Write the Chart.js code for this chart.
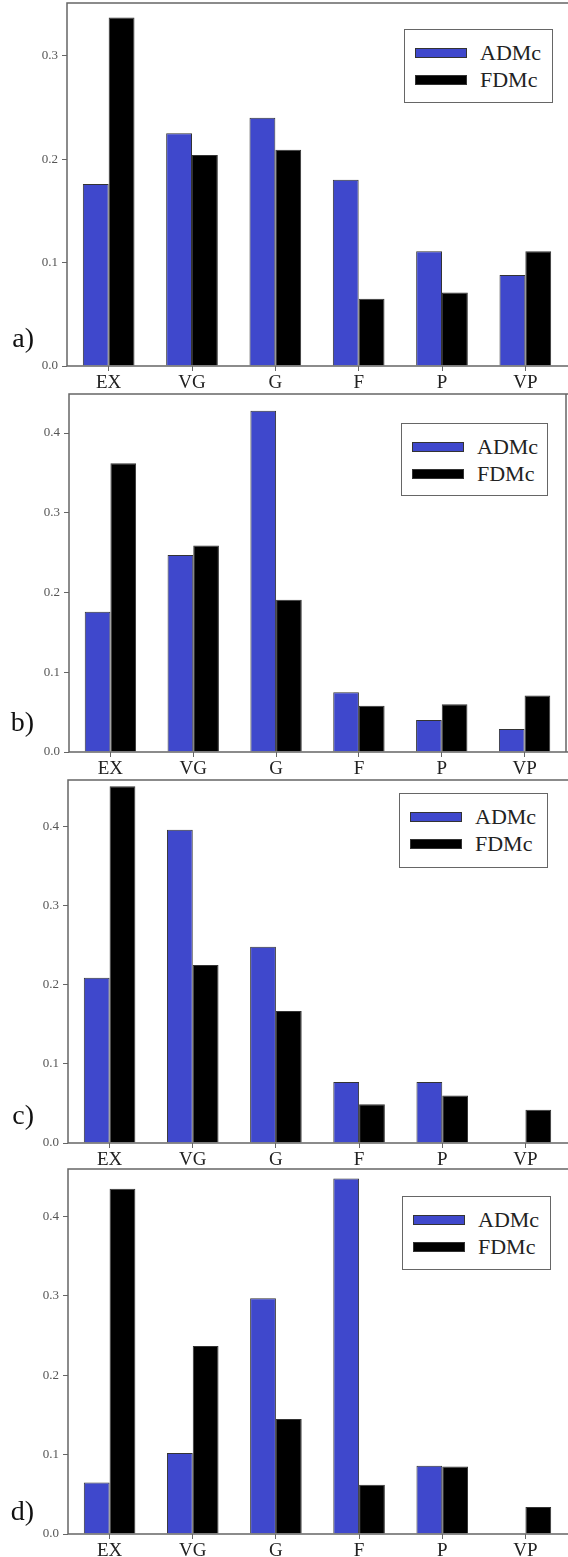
<!DOCTYPE html>
<html lang="en">
<head>
<meta charset="UTF-8" />
<title>ADMc vs FDMc</title>
<style>
  body {
    margin: 0;
    background: #fff;
    width: 568px;
    height: 1557px;
    position: relative;
    overflow: hidden;
    font-family: "Liberation Serif", "Times New Roman", serif;
  }
  canvas { position: absolute; left: 0; }
  .tag {
    position: absolute;
    left: 0;
    width: 34px;
    text-align: right;
    font-size: 28px;
    line-height: 28px;
    color: #111;
  }
  .legend {
    position: absolute;
    border: 1.5px solid #666;
    box-sizing: border-box;
    background: #fff;
  }
  .legend .row {
    position: absolute;
    left: 10px;
    height: 26px;
    display: flex;
    align-items: center;
    font-size: 22px;
    color: #222;
  }
  .legend .sw {
    width: 52px;
    height: 10px;
    border: 1px solid #333;
    box-sizing: border-box;
    margin-right: 13px;
  }
</style>
</head>
<body>

<canvas id="chartA" width="568" height="390" style="top:0px"></canvas>
<canvas id="chartB" width="568" height="390" style="top:390px"></canvas>
<canvas id="chartC" width="568" height="390" style="top:775px"></canvas>
<canvas id="chartD" width="568" height="392" style="top:1165px"></canvas>

<div class="tag" style="top:324px">a)</div>
<div class="tag" style="top:708px">b)</div>
<div class="tag" style="top:1101px">c)</div>
<div class="tag" style="top:1497px">d)</div>

<script src="https://cdn.jsdelivr.net/npm/chart.js"></script>
<script>
  // categories et séries
  const categories = ['EX', 'VG', 'G', 'F', 'P', 'VP'];
  const seriesNames = ['ADMc', 'FDMc'];

  const aAdm = [0.176, 0.225, 0.240, 0.180, 0.111, 0.088];
  const aFdm = [0.337, 0.204, 0.209, 0.065, 0.071, 0.111];

  const bAdm = [0.176, 0.247, 0.428, 0.075, 0.040, 0.029];
  const bFdm = [0.362, 0.259, 0.191, 0.058, 0.060, 0.071];

  const cAdm = [0.209, 0.396, 0.248, 0.077, 0.077, null];
  const cFdm = [0.451, 0.225, 0.167, 0.049, 0.060, 0.042];

  const dAdm = [0.065, 0.102, 0.297, 0.448, 0.086, null];
  const dFdm = [0.435, 0.237, 0.145, 0.062, 0.085, 0.034];

  const ticksA = [0, 0.1, 0.2, 0.3];
  const ticksBCD = [0, 0.1, 0.2, 0.3, 0.4];

  const blue = '#3f48cc';
  const black = '#000000';

  // cadre du graphique (haut, gauche, bas, et droite si demandé)
  const framePlugin = {
    id: 'frame',
    afterDraw(chart, args, opts) {
      const { ctx, chartArea: a } = chart;
      ctx.save();
      ctx.strokeStyle = '#666';
      ctx.lineWidth = 1.5;
      ctx.beginPath();
      ctx.moveTo(chart.width, a.top);
      ctx.lineTo(a.left, a.top);
      ctx.lineTo(a.left, a.bottom);
      ctx.lineTo(chart.width, a.bottom);
      if (opts.right) {
        ctx.moveTo(a.right, a.top);
        ctx.lineTo(a.right, a.bottom);
      }
      ctx.stroke();
      ctx.restore();
    }
  };

  function noPad(s) {
    s.paddingTop = 0;
    s.paddingBottom = 0;
    s.paddingLeft = 0;
    s.paddingRight = 0;
  }

  function makePanel(id, adm, fdm, yMax, yTicks, box) {
    const canvas = document.getElementById(id);
    const H = canvas.height;
    return new Chart(canvas.getContext('2d'), {
      type: 'bar',
      data: {
        labels: categories,
        datasets: [
          { label: seriesNames[0], data: adm, backgroundColor: blue, borderColor: '#333', borderWidth: 1 },
          { label: seriesNames[1], data: fdm, backgroundColor: black, borderColor: '#333', borderWidth: 1 }
        ]
      },
      options: {
        responsive: false,
        animation: false,
        categoryPercentage: 0.62,
        barPercentage: 1.0,
        layout: { padding: { top: box.top, right: 568 - box.right, bottom: 0, left: 0 } },
        scales: {
          x: {
            border: { display: false },
            grid: { offset: false, drawOnChartArea: false, drawTicks: true, tickLength: 5, color: '#666' },
            ticks: {
              color: '#222',
              padding: 1,
              font: { family: 'Liberation Serif', size: 19 },
              maxRotation: 0
            },
            afterFit: s => { s.height = H - box.bottom; noPad(s); }
          },
          y: {
            min: 0,
            max: yMax,
            border: { display: false },
            grid: { drawOnChartArea: false, drawTicks: true, tickLength: 5, color: '#666' },
            afterBuildTicks: s => { s.ticks = yTicks.map(v => ({ value: v })); },
            ticks: {
              color: '#555',
              padding: 4,
              font: { family: 'Liberation Serif', size: 13 },
              callback: v => v.toFixed(1)
            },
            afterFit: s => { s.width = box.left; noPad(s); }
          }
        },
        plugins: {
          legend: { display: false },
          tooltip: { enabled: false },
          frame: { right: box.rightBorder }
        }
      },
      plugins: [framePlugin]
    });
  }

  makePanel('chartA', aAdm, aFdm, 0.351, ticksA, { top: 3, bottom: 366, left: 67, right: 567, rightBorder: false });
  makePanel('chartB', bAdm, bFdm, 0.449, ticksBCD, { top: 4, bottom: 362, left: 69, right: 566, rightBorder: true });
  makePanel('chartC', cAdm, cFdm, 0.459, ticksBCD, { top: 5, bottom: 368, left: 68, right: 567, rightBorder: false });
  makePanel('chartD', dAdm, dFdm, 0.46, ticksBCD, { top: 4, bottom: 369, left: 68, right: 567, rightBorder: false });

  // légendes HTML dans chaque panneau
  const legendBoxes = [
    { left: 404, top: 29, w: 149, h: 74 },
    { left: 401, top: 423, w: 147, h: 73 },
    { left: 399, top: 793, w: 149, h: 75 },
    { left: 402, top: 1196, w: 149, h: 74 }
  ];
  legendBoxes.forEach(b => {
    const div = document.createElement('div');
    div.className = 'legend';
    div.style.left = b.left + 'px';
    div.style.top = b.top + 'px';
    div.style.width = b.w + 'px';
    div.style.height = b.h + 'px';
    [blue, black].forEach((col, i) => {
      const row = document.createElement('div');
      row.className = 'row';
      row.style.top = (10 + i * 27) + 'px';
      const sw = document.createElement('span');
      sw.className = 'sw';
      sw.style.background = col;
      row.appendChild(sw);
      row.appendChild(document.createTextNode(seriesNames[i]));
      div.appendChild(row);
    });
    document.body.appendChild(div);
  });
</script>

</body>
</html>
